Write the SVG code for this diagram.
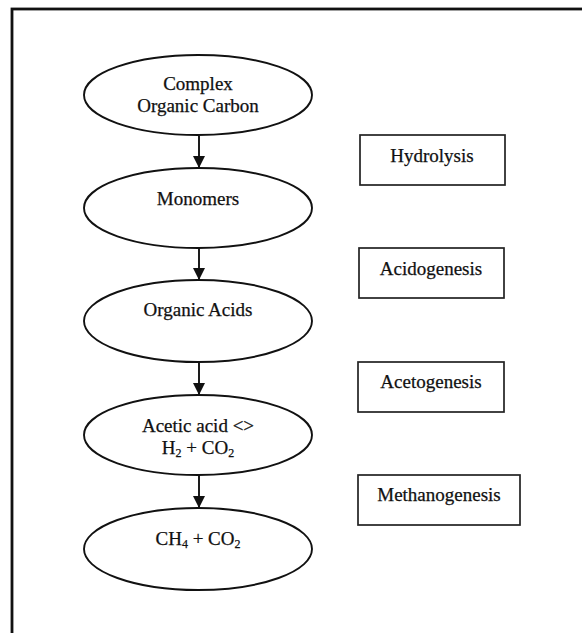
<svg xmlns="http://www.w3.org/2000/svg" width="582" height="633" viewBox="0 0 582 633">
<defs>
<style>
.el{fill:#fff;stroke:#111;stroke-width:1.9}
.bx{fill:#fff;stroke:#222;stroke-width:1.7}
.t{font-family:"Liberation Serif","Times New Roman",serif;font-size:19px;fill:#111;text-anchor:middle;stroke:#111;stroke-width:0.25}
.b{font-family:"Liberation Serif","Times New Roman",serif;font-size:19px;fill:#111;text-anchor:middle;stroke:#111;stroke-width:0.25}
.c{stroke:#111;stroke-width:1.9;fill:none}
</style>
<marker id="ah" viewBox="0 0 10 10" refX="10" refY="5" markerWidth="12" markerHeight="13" markerUnits="userSpaceOnUse" orient="auto">
<path d="M0,0 L10,5 L0,10 z" fill="#111"/>
</marker>
</defs>
<rect width="582" height="633" fill="#fff"/>
<rect x="12" y="9" width="620" height="700" fill="none" stroke="#111" stroke-width="2.8"/>
<g id="connectors">
<line class="c" x1="199" y1="136" x2="199" y2="168" marker-end="url(#ah)"/>
<line class="c" x1="199" y1="248" x2="199" y2="280" marker-end="url(#ah)"/>
<line class="c" x1="199" y1="362" x2="199" y2="395" marker-end="url(#ah)"/>
<line class="c" x1="199" y1="475" x2="199" y2="508" marker-end="url(#ah)"/>
</g>
<g id="n1">
<ellipse class="el" cx="198" cy="95" rx="114" ry="40"/>
<text class="t" x="198" y="90">Complex</text>
<text class="t" x="198" y="112">Organic Carbon</text>
</g>
<g id="n2">
<ellipse class="el" cx="198" cy="208" rx="114" ry="40"/>
<text class="t" x="198" y="205">Monomers</text>
</g>
<g id="n3">
<ellipse class="el" cx="198" cy="321" rx="114" ry="41"/>
<text class="t" x="198" y="316">Organic Acids</text>
</g>
<g id="n4">
<ellipse class="el" cx="198" cy="435" rx="114" ry="40"/>
<text class="t" x="198" y="432">Acetic acid &lt;&gt;</text>
<text class="t" x="198" y="454">H<tspan font-size="12" dy="3">2</tspan><tspan dy="-3"> + CO</tspan><tspan font-size="12" dy="3">2</tspan></text>
</g>
<g id="n5">
<ellipse class="el" cx="198" cy="549" rx="114" ry="41"/>
<text class="t" x="198" y="545">CH<tspan font-size="12" dy="3">4</tspan><tspan dy="-3"> + CO</tspan><tspan font-size="12" dy="3">2</tspan></text>
</g>
<g id="hydrolysis">
<rect class="bx" x="360" y="135" width="145" height="50"/>
<text class="b" x="432" y="162">Hydrolysis</text>
</g>
<g id="acidogenesis">
<rect class="bx" x="359" y="248" width="145" height="50"/>
<text class="b" x="431" y="275">Acidogenesis</text>
</g>
<g id="acetogenesis">
<rect class="bx" x="358" y="362" width="146" height="50"/>
<text class="b" x="431" y="388">Acetogenesis</text>
</g>
<g id="methanogenesis">
<rect class="bx" x="358" y="475" width="162" height="50"/>
<text class="b" x="439" y="501">Methanogenesis</text>
</g>
</svg>
